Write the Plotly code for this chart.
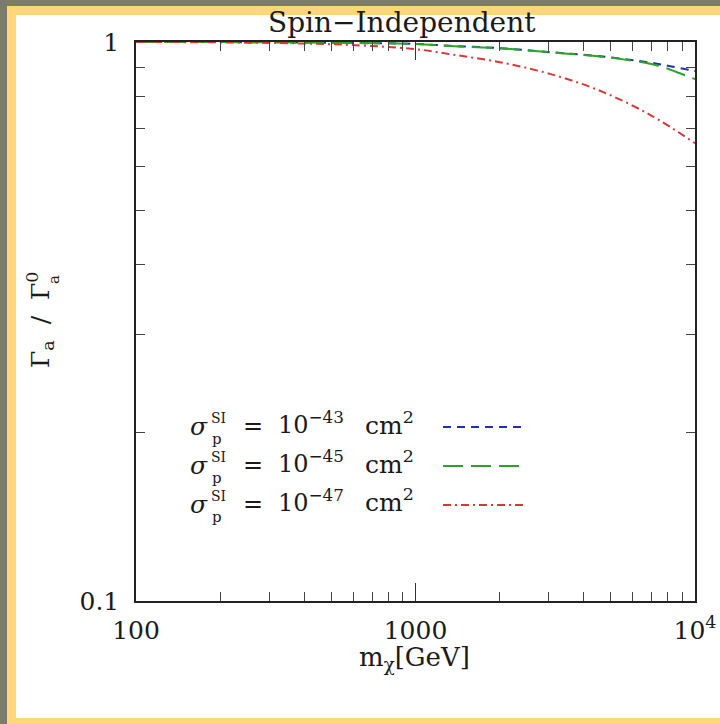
import plotly.graph_objects as go

# ---- data ----
mass_43 = [100, 170, 386, 583, 1000, 1328, 2004, 3027, 4571, 6902, 8150, 9600, 10000]
ratio_43 = [1.0, 1.0, 0.998, 0.996, 0.992, 0.9845, 0.975, 0.959, 0.943, 0.919, 0.905, 0.891, 0.887]
mass_45 = [100, 170, 386, 583, 1000, 1328, 2004, 3027, 4571, 5610, 6902, 7820, 8830, 10000]
ratio_45 = [1.0, 1.0, 0.998, 0.996, 0.992, 0.9837, 0.9744, 0.9585, 0.9418, 0.930, 0.914, 0.899, 0.879, 0.858]
mass_47 = [100, 170, 386, 583, 1000, 1328, 2004, 3027, 4571, 6902, 10000]
ratio_47 = [1.0, 0.999, 0.994, 0.988, 0.971, 0.951, 0.920, 0.877, 0.818, 0.741, 0.659]
series_exp = ["−43", "−45", "−47"]
x_tickvals = [100, 1000, 10000]
x_ticktext = ["100", "1000", "10<sup>4</sup>"]
x_minor = [200, 300, 400, 500, 600, 700, 800, 900, 2000, 3000, 4000, 5000, 6000, 7000, 8000, 9000]
y_tickvals = [0.1, 1]
y_ticktext = ["0.1", "1"]
y_minor = [0.2, 0.3, 0.4, 0.5, 0.6, 0.7, 0.8, 0.9]

W, H = 720, 724
X0, X1, Y0, Y1 = 136, 695, 42, 601
PW, PH = X1 - X0, Y1 - Y0
FONT = "DejaVu Serif"
TXT = "#1a1a1a"
GRAY, YEL = "#7b7b6e", "#ffd67a"

def xp(px):
    return (px - X0) / PW

def yp(py):
    return (Y1 - py) / PH

colors = ["#2233a0", "#2aa52a", "#d23a3a"]
dashes = ["8px,6px", "20px,8px", "8px,4px,2px,4px"]
series = [(mass_43, ratio_43), (mass_45, ratio_45), (mass_47, ratio_47)]

fig = go.Figure()
for (m, v), c, d in zip(series, colors, dashes):
    fig.add_trace(go.Scatter(x=m, y=v, mode="lines", line=dict(color=c, width=2, dash=d, shape="spline"),
                             showlegend=False, hoverinfo="skip"))

def rect(x0, x1, y0, y1, color):
    return dict(type="rect", xref="paper", yref="paper", x0=xp(x0), x1=xp(x1), y0=yp(y0), y1=yp(y1),
                fillcolor=color, line=dict(width=0), layer="above")

shapes = [
    rect(-10, 740, -10, 15, YEL),
    rect(-10, 16, -10, 740, YEL),
    rect(-10, 740, 718, 740, YEL),
    rect(-10, 740, -10, 6, GRAY),
    rect(-10, 7, -10, 740, GRAY),
]

annotations = []

def ann(text, x, y, size, xanchor="left", yanchor="middle", angle=0):
    annotations.append(dict(text=text, x=xp(x), y=yp(y), xref="paper", yref="paper", xanchor=xanchor,
                            yanchor=yanchor, showarrow=False, textangle=angle,
                            font=dict(family=FONT, size=size, color=TXT)))

rows_y = [427, 466, 505]
for i, (e, c, d) in enumerate(zip(series_exp, colors, dashes)):
    yy = rows_y[i]
    shapes.append(dict(type="line", xref="paper", yref="paper", x0=xp(443), x1=xp(527), y0=yp(yy), y1=yp(yy),
                       line=dict(color=c, width=2, dash=d)))
    ann("<i>σ</i>", 188, yy - 1, 25)
    ann("SI", 209, yy - 9, 14)
    ann("p", 210, yy + 12, 15)
    ann("=", 241, yy - 1, 24)
    ann("10<sup>" + e + "</sup>", 276, yy - 4, 24)
    ann("cm<sup>2</sup>", 363, yy - 4, 25)

ann("Spin−Independent", 402, 41, 28, xanchor="center", yanchor="bottom")
ann("m<sub>χ</sub>[GeV]", 414, 658, 26, xanchor="center")
ann("Γ<sub>a</sub>  /  Γ<sup>0</sup>", 40, 320, 25, xanchor="center", angle=-90)
ann("a", 54, 280, 15, xanchor="center", angle=-90)

axis_common = dict(type="log", showgrid=False, zeroline=False, showline=True, linecolor="#222", linewidth=1.5,
                   mirror="allticks", ticks="inside", ticklen=18, tickwidth=1, tickcolor="#333",
                   tickfont=dict(family=FONT, size=25, color=TXT), automargin=False,
                   ticklabeloverflow="allow")

fig.update_layout(
    width=W, height=H,
    margin=dict(l=X0, r=W - X1, t=Y0, b=H - Y1, pad=0, autoexpand=False),
    paper_bgcolor="white", plot_bgcolor="rgba(0,0,0,0)",
    xaxis=dict(axis_common, range=[2, 4], tickvals=x_tickvals, ticktext=x_ticktext, ticklabelstandoff=6,
               minor=dict(ticks="inside", ticklen=9, tickwidth=1, tickcolor="#444", showgrid=False,
                          tickvals=x_minor)),
    yaxis=dict(axis_common, range=[-1, 0], tickvals=y_tickvals, ticktext=y_ticktext, ticklabelstandoff=10,
               minor=dict(ticks="inside", ticklen=9, tickwidth=1, tickcolor="#444", showgrid=False,
                          tickvals=y_minor)),
    shapes=shapes, annotations=annotations,
)
fig.write_html("out.html")
